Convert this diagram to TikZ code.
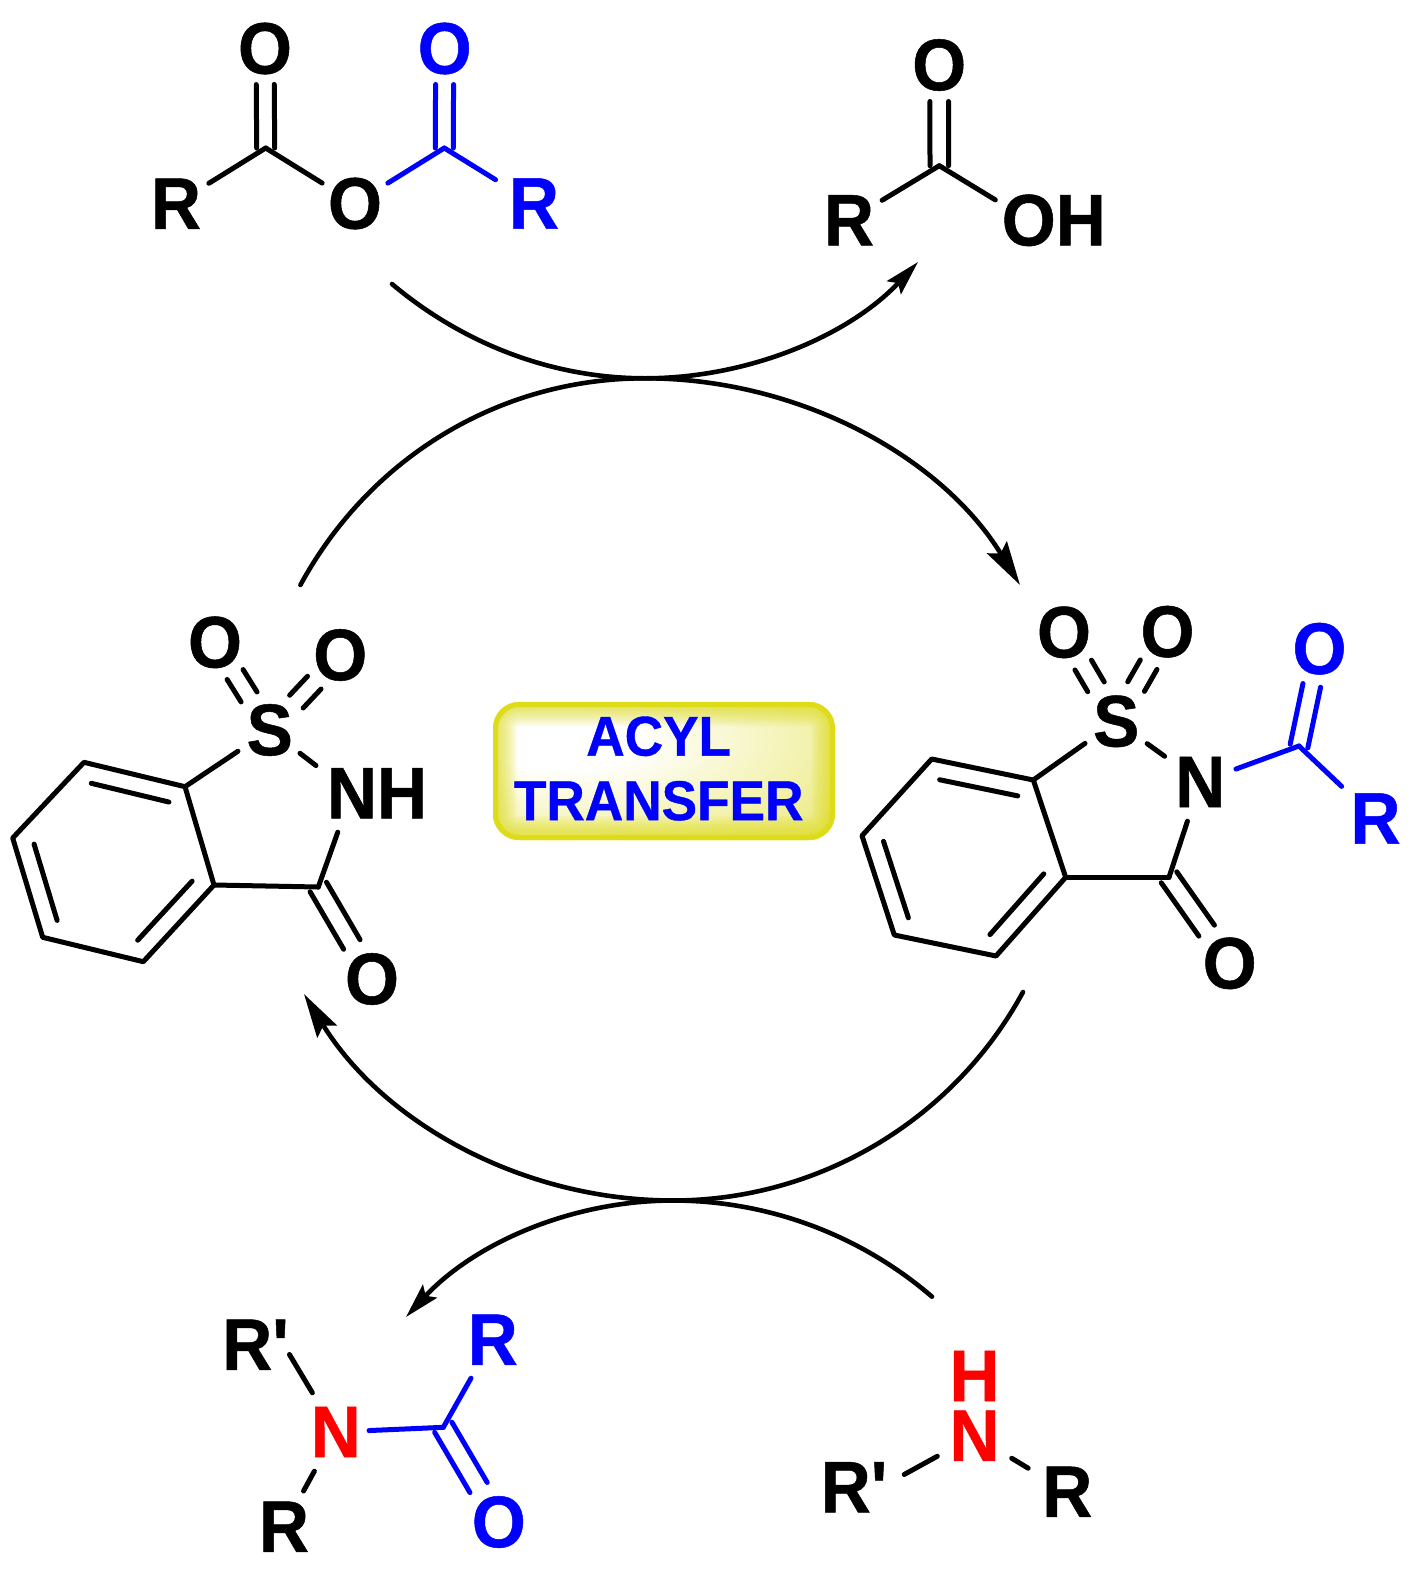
\documentclass[tikz,border=0pt]{standalone}
\usepackage{fontspec}
\setmainfont{Liberation Sans}
\newfontfamily\chemfont{Liberation Sans}[FakeStretch=0.95,FakeBold=0.7]
\usetikzlibrary{arrows.meta,calc}
\definecolor{boxyellow}{RGB}{222,220,24}
\definecolor{glowyellow}{RGB}{224,222,50}
\pgfdeclareradialshading{boxglow}{\pgfpoint{0bp}{0bp}}{color(0bp)=(white);color(7bp)=(white);color(28bp)=(white!48!glowyellow);color(50bp)=(glowyellow)}
\tikzset{
  atomfont/.style={font=\chemfont\fontsize{73}{73}\selectfont\bfseries},
  atom/.style={atomfont,circle,inner sep=0pt,minimum size=#1},
  atom/.default=77pt,
  nrect/.style={atomfont,rectangle,inner sep=0pt,minimum width=#1,minimum height=78pt},
  nrect/.default=71pt,
  wide/.style={atomfont,inner sep=0pt},
  bondend/.style={circle,inner sep=0pt,minimum size=#1},
  hiddenrect/.style={rectangle,inner sep=0pt,minimum width=71pt,minimum height=78pt},
  bondline/.style={line width=5pt,line cap=round,line join=round},
  bigarrow/.style={line width=4.6pt,line cap=round,-{Stealth[length=44pt,width=23pt,inset=7pt]}},
  smallarrow/.style={line width=4.6pt,line cap=round,-{Stealth[length=35pt,width=19pt,inset=6pt]}},
  boxlabel/.style={inner sep=0pt,text=blue,font=\chemfont\fontsize{56}{56}\selectfont\bfseries},
  bl/.style={blue}
}
% symmetric double bond: {a}{b}{half gap}{shorten a}{shorten b}
\newcommand{\dbond}[6][black]{%
  \draw[bondline,#1,shorten <=#5,shorten >=#6] ($(#2)!#4!90:(#3)$) -- ($(#3)!#4!-90:(#2)$);
  \draw[bondline,#1,shorten <=#5,shorten >=#6] ($(#2)!#4!-90:(#3)$) -- ($(#3)!#4!90:(#2)$);}
% inner ring line: {a}{b}{offset}
\newcommand{\ibond}[3]{%
  \draw[bondline,shorten <=12pt,shorten >=12pt] ($(#1)!#3!90:(#2)$) -- ($(#2)!#3!-90:(#1)$);}
\begin{document}
\begin{tikzpicture}[x=1pt,y=-1pt]
\useasboundingbox (0,0) rectangle (1417,1577);

% ---------- anhydride
\node[atom] (r1) at (176,203.7) {R};
\coordinate (c1) at (265.7,148);
\node[atom] (o1) at (265,48.5) {O};
\node[atom] (o2) at (355,203.5) {O};
\coordinate (c2) at (444.3,148);
\node[atom,text=blue] (o3) at (444.7,48.5) {O};
\node[atom=90pt,text=blue] (r2) at (534,203.5) {R};
\draw[bondline] (r1) -- (c1);
\draw[bondline] (c1) -- (o2);
\draw[bondline,bl] (o2) -- (c2);
\draw[bondline,bl] (c2) -- (r2);
\dbond{c1}{o1}{9pt}{0pt}{36pt}
\dbond[blue]{c2}{o3}{9pt}{0pt}{36pt}

% ---------- acid
\node[atom] (r3) at (849,220.3) {R};
\coordinate (c3) at (939.3,165.7);
\node[atom] (o4) at (939.2,65) {O};
\node[wide] (oh) at (1053.8,220.3) {OH};
\node[bondend=78pt] (ohb) at (1028.8,220.3) {};
\draw[bondline] (r3) -- (c3);
\draw[bondline] (c3) -- (ohb);
\dbond{c3}{o4}{9.3pt}{0pt}{36.5pt}

% ---------- saccharin
\node[atom=76pt] (s1) at (269.7,730) {S};
\node[atom] (o5) at (215,642.3) {O};
\node[atom] (o6) at (340.3,655) {O};
\node[wide] (nh) at (377,793.3) {NH};
\node[hiddenrect] (n1) at (351.7,793) {};
\coordinate (c4) at (318.3,887);
\node[atom] (o7) at (372,979) {O};
\coordinate (a1) at (185,786.7);
\coordinate (a2) at (214,885);
\coordinate (a3) at (143.3,961.7);
\coordinate (a4) at (42.7,937.3);
\coordinate (a5) at (12.7,838);
\coordinate (a6) at (84,762.3);
\draw[bondline] (s1) -- (a1);
\draw[bondline] (s1) -- (n1);
\draw[bondline] (n1) -- (c4);
\draw[bondline] (c4) -- (a2);
\draw[bondline] (a1) -- (a2) -- (a3) -- (a4) -- (a5) -- (a6) -- cycle;
\ibond{a1}{a6}{18.7pt}
\ibond{a5}{a4}{18.7pt}
\ibond{a3}{a2}{18.7pt}
\dbond{s1}{o5}{9.4pt}{39pt}{38pt}
\dbond{s1}{o6}{9.3pt}{39pt}{38pt}
\dbond{c4}{o7}{9.5pt}{0pt}{40pt}

% ---------- N-acyl saccharin
\node[atom=76pt] (s2) at (1116.2,721.3) {S};
\node[atom] (o8) at (1064,632.3) {O};
\node[atom] (o9) at (1167.5,631.7) {O};
\node[nrect] (n2) at (1200.3,782) {N};
\coordinate (c5) at (1169,877.3);
\node[atom] (o10) at (1229.7,963.3) {O};
\coordinate (b1) at (1033.3,780);
\coordinate (b2) at (1065.7,877.3);
\coordinate (b3) at (996,956);
\coordinate (b4) at (894.3,935);
\coordinate (b5) at (862,835.7);
\coordinate (b6) at (931.7,759);
\coordinate (c6) at (1299,746);
\node[atom,text=blue] (o11) at (1319.5,648.7) {O};
\node[atom=93pt,text=blue] (r4) at (1375.5,818.5) {R};
\draw[bondline] (s2) -- (b1);
\draw[bondline] (s2) -- (n2);
\draw[bondline] (n2) -- (c5);
\draw[bondline] (c5) -- (b2);
\draw[bondline] (b1) -- (b2) -- (b3) -- (b4) -- (b5) -- (b6) -- cycle;
\ibond{b1}{b6}{18.7pt}
\ibond{b5}{b4}{18.7pt}
\ibond{b3}{b2}{18.7pt}
\dbond{s2}{o8}{9.6pt}{40pt}{38pt}
\dbond{s2}{o9}{9.6pt}{40pt}{38pt}
\dbond{c5}{o10}{9.5pt}{0pt}{40pt}
\draw[bondline,bl] (n2) -- (c6);
\draw[bondline,bl] (c6) -- (r4);
\dbond[blue]{c6}{o11}{9pt}{0pt}{37.5pt}

% ---------- amide
\node[wide] (rp1) at (255.5,1344.7) {R'};
\node[bondend=52pt] (rp1b) at (276,1332) {};
\node[nrect=66pt,text=red] (n3) at (335.8,1432) {N};
\node[atom=81pt] (r5) at (284,1526.7) {R};
\coordinate (c7) at (443.3,1427.3);
\node[atom=88pt,text=blue] (r6) at (492.7,1339.7) {R};
\node[atom,text=blue] (o12) at (498.8,1522) {O};
\draw[bondline] (rp1b) -- (n3);
\draw[bondline] (n3) -- (r5);
\draw[bondline,bl] (n3) -- (c7);
\draw[bondline,bl] (c7) -- (r6);
\dbond[blue]{c7}{o12}{10pt}{0pt}{40pt}

% ---------- amine
\node[wide,text=red] (h1) at (974.5,1376) {H};
\node[nrect=74pt,text=red] (n4) at (974.5,1435.8) {N};
\node[wide] (rp2) at (854,1487.2) {R'};
\node[bondend=64pt] (rp2b) at (876,1490) {};
\node[atom=91pt] (r7) at (1067.3,1491.8) {R};
\draw[bondline] (rp2b) -- (n4);
\draw[bondline] (n4) -- (r7);

% ---------- curved arrows
\coordinate (t1) at (392,284);
\coordinate (m1) at (645,378.3);
\coordinate (e1) at (918,262);
\coordinate (t2) at (300.4,585);
\coordinate (e2) at (1020,585);
\coordinate (t3) at (1023,992);
\coordinate (m2) at (673,1200.5);
\coordinate (e3) at (304,994);
\coordinate (t4) at (932,1296.7);
\coordinate (e4) at (406,1317);
\draw[smallarrow] (t1) .. controls (464,344.5) and (553,378.3) .. (m1) .. controls (748,378.3) and (848.6,336) .. (e1);
\draw[bigarrow] (t2) .. controls (370,457) and (500,378.3) .. (m1) .. controls (798,378.3) and (941,456) .. (e2);
\draw[bigarrow] (t3) .. controls (953.5,1120) and (819,1200.5) .. (m2) .. controls (522,1200.5) and (383,1122.4) .. (e3);
\draw[smallarrow] (t4) .. controls (860,1234.7) and (768,1200.5) .. (m2) .. controls (572,1200.5) and (474.6,1243) .. (e4);

% ---------- label box
\begin{scope}
  \clip[rounded corners=26pt] (493,702) rectangle (835,840);
  \fill[boxyellow] (493,702) rectangle (835,840);
  \shade[shading=boxglow] (290,635) rectangle (830,845);
  \foreach \w in {48,44,40,36,32,28,24,20,16,12} {
    \draw[boxyellow,opacity=.09,line width=\w pt,rounded corners=26pt] (493,702) rectangle (835,840);
  }
\end{scope}
\draw[boxyellow,line width=5pt,rounded corners=24pt] (495.5,704.5) rectangle (832.5,837.5);
\node[boxlabel] (acyl) at (658.7,736.3) {ACYL};
\node[boxlabel] (transfer) at (658.7,800.8) {TRANSFER};
\end{tikzpicture}
\end{document}
